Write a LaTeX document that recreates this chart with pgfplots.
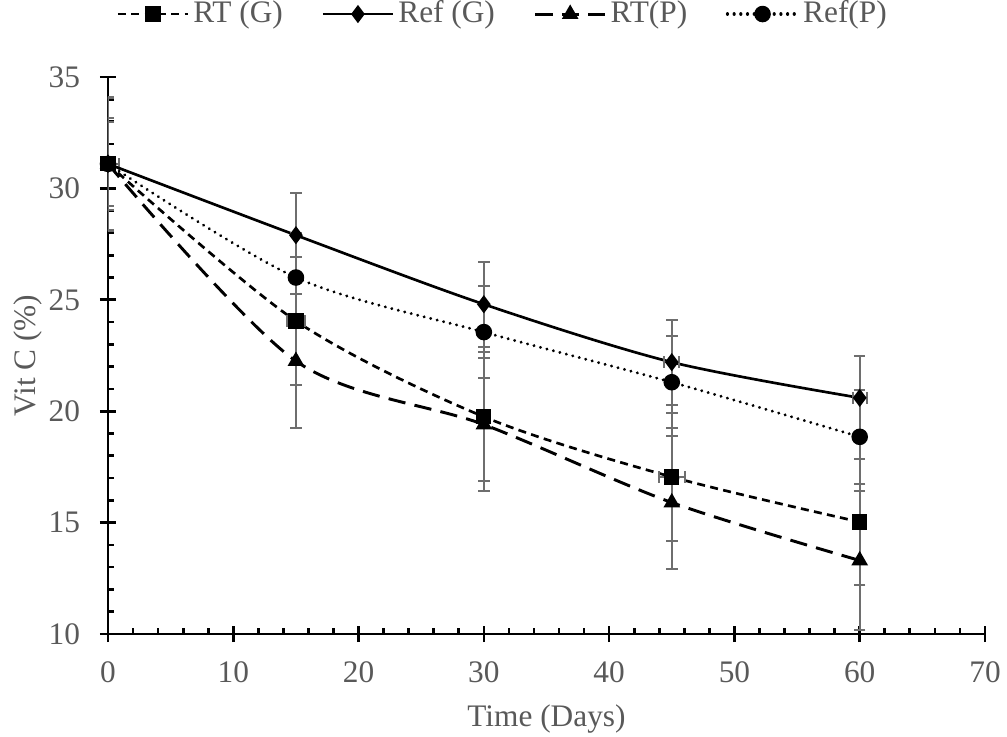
\documentclass[border=0pt]{standalone}
\usepackage{fontspec}
\setmainfont{Liberation Serif}
\usepackage{pgfplots}
\usepackage{pgfplotstable}
\pgfplotsset{compat=1.18}
\definecolor{txtgray}{HTML}{595959}
\definecolor{errgray}{HTML}{6E6E6E}

\pgfplotstableread{
x y ex ey
0 31.1 0.9 2.95
15 24.05 0.75 2.87
30 19.75 0 2.9
45 17.05 1.05 2.88
60 15.03 0 2.83
}\rtg
\pgfplotstableread{
x y ex ey
0 31.1 0 1.9
15 27.9 0 1.88
30 24.8 0 1.9
45 22.2 0.6 1.9
60 20.6 0.55 1.88
}\refg
\pgfplotstableread{
x y ey
0 31.1 3.0
15 22.25 3.0
30 19.4 3.0
45 15.9 3.0
60 13.3 3.1
}\rtp
\pgfplotstableread{
x y ey
0 31.1 2.05
15 26.0 2.0
30 23.55 2.07
45 21.3 2.07
60 18.85 2.1
}\refp

\begin{document}
\fontsize{23.5}{28}\selectfont
\begin{tikzpicture}
\useasboundingbox (-81pt,-76.5pt) rectangle (674.25pt,475.5pt);
\begin{axis}[
  scale only axis, width=657.75pt, height=417.75pt,
  xmin=0, xmax=70, ymin=10, ymax=35,
  axis x line*=bottom, axis y line*=left,
  xtick={0,10,...,70}, ytick={10,15,...,35},
  minor x tick num=4, minor y tick num=4,
  tick align=center, major tick length=12pt, minor tick length=4.5pt,
  minor x tick style={yshift=2.25pt}, minor y tick style={xshift=2.25pt},
  axis line style={line width=2.2pt, black},
  tick style={line width=2pt, black},
  ticklabel style={text=txtgray, font=\fontsize{23.5}{28}\selectfont},
  xticklabel style={yshift=-6.5pt},
  yticklabel style={xshift=-7pt},
  /pgf/number format/assume math mode=true,
  xlabel={Time (Days)}, ylabel={Vit C (\%)},
  every axis x label/.style={at={(axis description cs:0.5,-0.1526)},anchor=center},
  every axis y label/.style={at={(axis description cs:-0.0916,0.5)},rotate=90,anchor=center},
  label style={text=txtgray, font=\fontsize{23.5}{28}\selectfont},
  legend columns=4,
  legend style={draw=none, fill=none, at={(0.4504,1.113)}, anchor=center,
    text=txtgray, font=\fontsize{23.5}{28}\selectfont,
    /tikz/every even column/.append style={column sep=27pt},
    /tikz/every odd column/.append style={column sep=1pt}},
  legend image code/.code={\draw[mark repeat=2,mark phase=2] plot coordinates {(0cm,0cm)(0.925cm,0cm)(1.85cm,0cm)};},
  error bars/error bar style={errgray, line width=1.5pt, solid},
  error bars/error mark options={rotate=90, errgray, line width=1.5pt, mark size=4.3pt, solid},
]
\addplot[black, line width=2pt, smooth, dash pattern=on 6pt off 4pt, mark=square*, mark size=4.7pt, mark options={solid},
  error bars/.cd, y dir=both, y explicit, x dir=both, x explicit]
  table[x=x, y=y, x error=ex, y error=ey] {\rtg};
\addplot[black, line width=2pt, smooth, solid, mark=diamond*, mark size=5.2pt, mark options={solid},
  error bars/.cd, y dir=both, y explicit, x dir=both, x explicit]
  table[x=x, y=y, x error=ex, y error=ey] {\refg};
\addplot[black, line width=2.2pt, smooth, dash pattern=on 13pt off 7pt, mark=triangle*, mark size=5pt, mark options={solid},
  error bars/.cd, y dir=both, y explicit]
  table[x=x, y=y, y error=ey] {\rtp};
\addplot[black, line width=2.4pt, smooth, line cap=round, dash pattern=on 0.01pt off 5pt, mark=*, mark size=5pt, mark options={solid},
  error bars/.cd, y dir=both, y explicit]
  table[x=x, y=y, y error=ey] {\refp};
\legend{RT (G), Ref (G), RT(P), Ref(P)}
\end{axis}
\end{tikzpicture}
\end{document}
